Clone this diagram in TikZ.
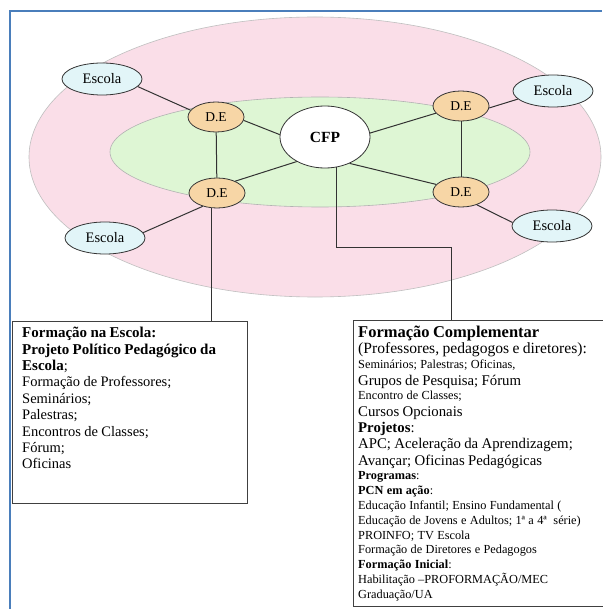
\documentclass[tikz,border=0pt]{standalone}
\usepackage{fontspec}
\setmainfont{Liberation Serif}
\usetikzlibrary{shapes.geometric,calc}
\definecolor{pinkbg}{RGB}{250,222,232}
\definecolor{greenbg}{RGB}{222,246,212}
\definecolor{debg}{RGB}{247,214,166}
\definecolor{escbg}{RGB}{226,245,248}
\definecolor{frameblue}{RGB}{74,126,187}
\definecolor{linegray}{RGB}{50,50,50}
\newcommand\Lf{\fontsize{14.5}{16.4}\selectfont}
\newcommand\Bf{\fontsize{15}{16.4}\selectfont\bfseries}
\newcommand\Lg{\fontsize{14.8}{16.3}\selectfont}
\newcommand\Lp{\fontsize{15.6}{16.3}\selectfont}
\newcommand\Sm{\fontsize{12.3}{14.8}\selectfont}
\newcommand\Hd{\fontsize{16.5}{17}\selectfont}
\begin{document}
\begin{tikzpicture}[x=1pt,y=-1pt,
  esc/.style={ellipse, draw=black!80, fill=escbg, line width=0.8pt, minimum width=80pt, minimum height=32pt, inner sep=0pt, font=\fontsize{14.5}{16}\selectfont},
  de/.style={ellipse, draw=black!80, fill=debg, line width=0.8pt, minimum width=56pt, minimum height=30pt, inner sep=0pt, font=\fontsize{13.5}{15}\selectfont},
  cfp/.style={ellipse, draw=black!80, fill=white, line width=0.8pt, minimum width=90pt, minimum height=62pt, inner sep=0pt, font=\fontsize{15.5}{17}\selectfont\bfseries},
  conn/.style={draw=linegray, line width=1pt},
  boxst/.style={rectangle, draw=black!75, line width=0.8pt, inner sep=0pt, anchor=north west},
  txt/.style={anchor=north west, inner sep=0pt, align=left}
]
\useasboundingbox (0,0) rectangle (602,609);
\fill[white] (0,0) rectangle (602,609);
% background ellipses
\draw[fill=pinkbg, draw=black!25, line width=0.6pt] (315,157) ellipse [x radius=286pt, y radius=140pt];
\draw[fill=greenbg, draw=black!30, line width=0.6pt] (320,152) ellipse [x radius=210pt, y radius=55pt];
% nodes
\node[cfp] (cfp) at (325,137) {CFP};
\node[de] (detl) at (216,117) {D.E};
\node[de] (debl) at (217,193) {D.E};
\node[de] (detr) at (461,106) {D.E};
\node[de] (debr) at (461,192) {D.E};
\node[esc] (estl) at (102,79) {Escola};
\node[esc] (estr) at (553,91) {Escola};
\node[esc] (esbl) at (105,238) {Escola};
\node[esc] (esbr) at (552,226) {Escola};
% connectors
\draw[conn] (estl.348) -- (detl.165);
\draw[conn] (esbl.8) -- (debl.223);
\draw[conn] (estr.193) -- (detr.356);
\draw[conn] (esbr.175) -- (debr.321);
\draw[conn] (detl) -- (debl);
\draw[conn] (detr) -- (debr);
\draw[conn] (cfp.177) -- (detl.353);
\draw[conn] (cfp.221) -- (debl.33);
\draw[conn] (cfp.5) -- (detr.196);
\draw[conn] (cfp.313) -- (debr.163);
% boxes
\node[boxst, minimum width=235pt, minimum height=182pt] (lbox) at (12,321) {};
\node[boxst, minimum width=262pt, minimum height=286pt] (rbox) at (353,320) {};
\coordinate (rj) at (451,247);
\draw[conn] (debl.250) -- (debl.250 |- lbox.north);
\draw[conn] (cfp.290) |- (rj) -- (rj |- rbox.north);
% texts
\node[txt, text width=228pt] (ltxt) at ([xshift=10pt,yshift=-6pt]lbox.north west) {\Lf
{\Bf Formação na Escola:}\par
{\Bf Projeto Político Pedagógico da}\par
{\Bf Escola};\par
Formação de Professores;\par
Seminários;\par
Palestras;\par
Encontros de Classes;\par
Fórum;\par
Oficinas\par};
\node[txt, text width=245pt] (rtxt) at ([xshift=5pt,yshift=-6pt]rbox.north west) {%
{\Hd\bfseries Formação Complementar\par}
{\Lp (Professores, pedagogos e diretores):\par}
{\Sm Seminários; Palestras; Oficinas,\par}
{\Lg Grupos de Pesquisa; Fórum\par}
{\Sm Encontro de Classes;\par}
{\Lg Cursos Opcionais\par}
{\Lg {\bfseries Projetos}:\par}
{\Lg APC; Aceleração da Aprendizagem;\par}
{\Lg Avançar; Oficinas Pedagógicas\par}
{\Sm {\bfseries Programas}:\par}
{\Sm {\bfseries PCN em ação}:\par}
{\Sm Educação Infantil; Ensino Fundamental (\par}
{\Sm Educação de Jovens e Adultos; 1ª a 4ª \ série)\par}
{\Sm PROINFO; TV Escola\par}
{\Sm Formação de Diretores e Pedagogos\par}
{\Sm {\bfseries Formação Inicial}:\par}
{\Sm Habilitação –PROFORMAÇÃO/MEC\par}
{\Sm Graduação/UA\par}};
% frame
\draw[frameblue, line width=2.6pt] (10,609) -- (10,11) -- (602,11);
\end{tikzpicture}
\end{document}
